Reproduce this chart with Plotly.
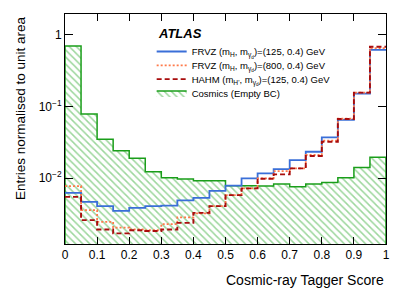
import plotly.graph_objects as go

bin_edges = [round(0.05 * i, 2) for i in range(21)]

frvz_125 = [0.00622, 0.00466, 0.00406, 0.00349, 0.00384, 0.00406, 0.00412, 0.00488, 0.0053, 0.00664,
            0.00786, 0.0099, 0.01164, 0.01336, 0.01786, 0.0233, 0.0371, 0.0648, 0.1506, 0.617]
frvz_800 = [0.00773, 0.00357, 0.00245, 0.00204, 0.00192, 0.00187, 0.00228, 0.00282, 0.00321, 0.00406,
            0.00578, 0.00718, 0.0099, 0.01253, 0.01367, 0.021, 0.0333, 0.0673, 0.156, 0.652]
hahm_125 = [0.00547, 0.00259, 0.00192, 0.00169, 0.00187, 0.00183, 0.00192, 0.00237, 0.00327, 0.00406,
            0.00578, 0.00718, 0.00978, 0.01127, 0.01367, 0.0203, 0.0322, 0.0669, 0.156, 0.68]
cosmics = [0.70, 0.0785, 0.0348, 0.0241, 0.0189, 0.01225, 0.0101, 0.0097, 0.00917, 0.00917,
           0.0078, 0.0078, 0.00773, 0.00824, 0.00756, 0.00824, 0.0087, 0.0101, 0.0141, 0.0195]

names = [
    "FRVZ (m<sub>H</sub>, m<sub>γ<sub>d</sub></sub>)=(125, 0.4) GeV",
    "FRVZ (m<sub>H</sub>, m<sub>γ<sub>d</sub></sub>)=(800, 0.4) GeV",
    "HAHM (m<sub>H'</sub>, m<sub>γ<sub>d</sub></sub>)=(125, 0.4) GeV",
    "Cosmics (Empty BC)",
]

y_ticks = [1, 0.1, 0.01]
y_tick_text = ["1", "10<sup>−1</sup>", "10<sup>−2</sup>"]
y_minor_ticks = [m * d for d in (0.001, 0.01, 0.1, 1) for m in range(2, 10) if m * d < 1.95]
x_minor_ticks = [round(0.0125 * i, 4) for i in range(81) if i % 8 != 0]
fill_base = 1e-4  # below the visible axis range
Y_RANGE = [-2.92, 0.29]


def step(vals):
    return vals + [vals[-1]]


FONT = "Liberation Sans, Arial, sans-serif"
fig = go.Figure()

fig.add_trace(go.Scatter(
    x=[bin_edges[0]] + bin_edges + [bin_edges[-1]],
    y=[fill_base] + step(cosmics) + [fill_base],
    mode="lines", line_shape="hv",
    line=dict(color="#1a9e1a", width=1.5),
    fill="toself", fillcolor="white",
    fillpattern=dict(shape="\\", fgcolor="#3aae3a", bgcolor="white", size=5, solidity=0.3),
    name=names[3], legend="legend4",
))
fig.add_trace(go.Scatter(
    x=bin_edges, y=step(frvz_125), mode="lines", line_shape="hv",
    line=dict(color="#3a6fd8", width=1.8), name=names[0], legend="legend",
))
fig.add_trace(go.Scatter(
    x=bin_edges, y=step(frvz_800), mode="lines", line_shape="hv",
    line=dict(color="#ff7a4a", width=1.8, dash="2px,2px"), name=names[1], legend="legend2",
))
fig.add_trace(go.Scatter(
    x=bin_edges, y=step(hahm_125), mode="lines", line_shape="hv",
    line=dict(color="#a80c0c", width=1.9, dash="5px,3px"), name=names[2], legend="legend3",
))

axis_common = dict(showgrid=False, zeroline=False, ticks="inside", tickcolor="black")


def legend_at(y):
    return dict(x=0.27, y=y, xanchor="left", yanchor="middle",
                bgcolor="rgba(0,0,0,0)", font=dict(size=9.5, family=FONT), itemwidth=30)


fig.update_layout(
    width=407, height=292,
    margin=dict(l=65, r=21, t=14, b=48),
    paper_bgcolor="white", plot_bgcolor="white",
    font=dict(family=FONT, size=12, color="black"),
    showlegend=True,
    legend=legend_at(0.837),
    legend2=legend_at(0.777),
    legend3=legend_at(0.717),
    legend4=legend_at(0.657),
    xaxis=dict(
        range=[0, 1], tickmode="linear", tick0=0, dtick=0.1,
        showline=True, linecolor="black", linewidth=1, mirror="allticks",
        ticklen=7, tickfont=dict(size=12), **axis_common,
    ),
    yaxis=dict(
        type="log", range=Y_RANGE, tickmode="array", tickvals=y_ticks, ticktext=y_tick_text,
        showline=True, linecolor="black", linewidth=1, mirror="allticks",
        ticklen=8, tickfont=dict(size=12), **axis_common,
    ),
    xaxis2=dict(
        overlaying="x", anchor="y", range=[0, 1], tickmode="array", tickvals=x_minor_ticks,
        showticklabels=False, ticklen=3.5, mirror="allticks", showline=False, **axis_common,
    ),
    yaxis2=dict(
        overlaying="y", anchor="x", type="log", range=Y_RANGE, tickmode="array",
        tickvals=y_minor_ticks, showticklabels=False, ticklen=4, mirror="allticks",
        showline=False, **axis_common,
    ),
    annotations=[
        dict(text="<b><i>ATLAS</i></b>", x=0.282, y=0.955, xref="paper", yref="paper",
             xanchor="left", yanchor="top", showarrow=False, font=dict(size=13, family=FONT)),
        dict(text="Cosmic-ray Tagger Score", x=1.0, y=-0.112, xref="paper", yref="paper",
             xanchor="right", yanchor="top", showarrow=False, font=dict(size=14, family=FONT)),
        dict(text="Entries normalised to unit area", x=-0.14, y=1.0, xref="paper", yref="paper",
             xanchor="center", yanchor="top", textangle=-90, showarrow=False,
             font=dict(size=13.5, family=FONT)),
    ],
)

fig.write_html("out.html", config={"displayModeBar": False},
               post_script="document.body.style.margin='0px';")
